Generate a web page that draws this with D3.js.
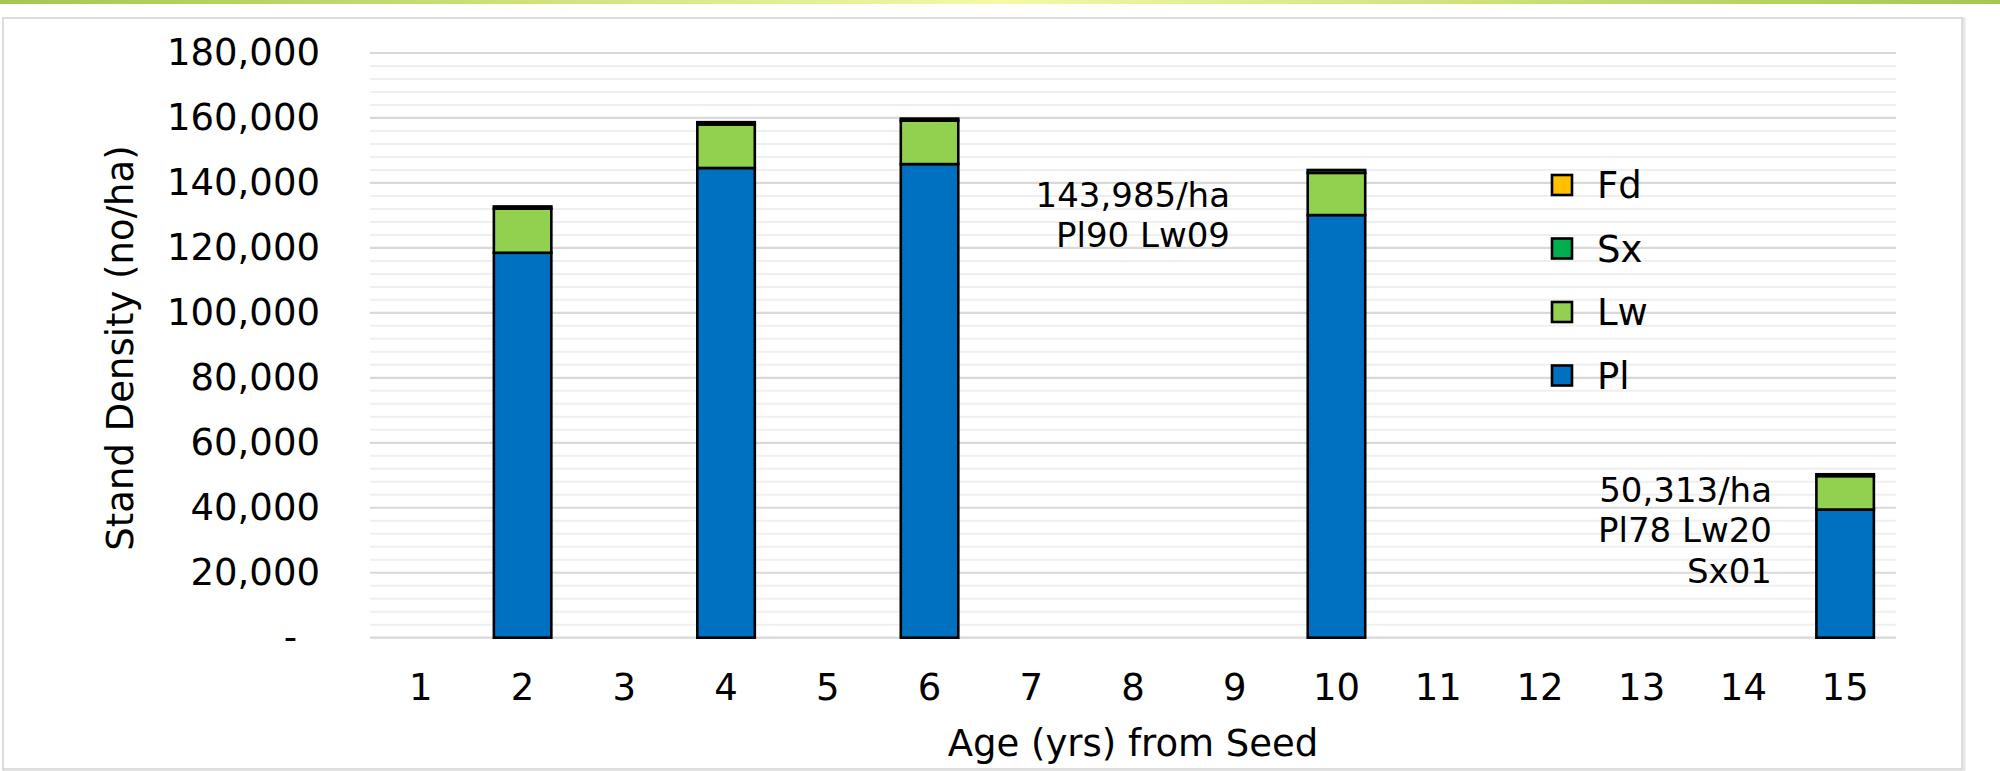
<!DOCTYPE html>
<html>
<head>
<meta charset="utf-8">
<script src="https://cdn.jsdelivr.net/npm/d3@7"></script>
<style>
  html, body { margin: 0; padding: 0; background: #ffffff; }
  svg { display: block; }
  text { font-family: "DejaVu Sans", Verdana, sans-serif; fill: #000; }
</style>
</head>
<body>
<svg id="chart" width="2000" height="771"></svg>
<script>
// ---- Data ----
const ages = ["1","2","3","4","5","6","7","8","9","10","11","12","13","14","15"];
const pl = [0, 118500, 0, 144600, 0, 145800, 0, 0, 0, 130100, 0, 0, 0, 0, 39450];
const lw = [0, 13600, 0, 13400, 0, 13400, 0, 0, 0, 13000, 0, 0, 0, 0, 10300];
const sx = [0, 660, 0, 700, 0, 600, 0, 0, 0, 885, 0, 0, 0, 0, 563];
const fd = [0, 0, 0, 0, 0, 0, 0, 0, 0, 0, 0, 0, 0, 0, 0];
const seriesKeys = ["Pl", "Lw", "Sx", "Fd"];
const seriesColors = ["#0070C0", "#92D050", "#00B050", "#FFC000"];
const legendOrder = ["Fd", "Sx", "Lw", "Pl"];
const yTicks = [0, 20000, 40000, 60000, 80000, 100000, 120000, 140000, 160000, 180000];
const yMinorStep = 4000;
const annotations = [
  { age: "10", lines: ["143,985/ha", "Pl90 Lw09"] },
  { age: "15", lines: ["50,313/ha", "Pl78 Lw20", "Sx01"] }
];
const xTitle = "Age (yrs) from Seed";
const yTitle = "Stand Density (no/ha)";

// ---- Layout ----
const W = 2000, H = 771;
const plotL = 370, plotR = 1896, plotT = 53, plotB = 637.7;
const FS = 37;
const FS_ANN = 34;

const svg = d3.select("#chart");

// top decorative gradient band
const defs = svg.append("defs");
const grad = defs.append("linearGradient").attr("id", "topband").attr("x1", "0%").attr("x2", "100%");
grad.append("stop").attr("offset", "0%").attr("stop-color", "#a3c84c");
grad.append("stop").attr("offset", "50%").attr("stop-color", "#f3f9a6");
grad.append("stop").attr("offset", "100%").attr("stop-color", "#a3c84c");
svg.append("rect").attr("x", 0).attr("y", 0).attr("width", W).attr("height", 4).attr("fill", "url(#topband)");

// panel frame with slight shadow
svg.append("rect").attr("x", 4).attr("y", 19).attr("width", 1960).attr("height", 752)
  .attr("fill", "none").attr("stroke", "#e6e6e6").attr("stroke-width", 3);
svg.append("rect").attr("x", 3).attr("y", 18).attr("width", 1959).attr("height", 751)
  .attr("fill", "#ffffff").attr("stroke", "#d4d4d4").attr("stroke-width", 1.5);

// scales
const x = d3.scaleBand().domain(ages).range([plotL, plotR]).paddingInner(0.435).paddingOuter(0.2175);
const y = d3.scaleLinear().domain([0, 180000]).range([plotB, plotT]);

// minor gridlines
const minorVals = d3.range(0, 180000 + 1, yMinorStep).filter(v => !yTicks.includes(v));
svg.append("g").selectAll("line").data(minorVals).join("line")
  .attr("x1", plotL).attr("x2", plotR)
  .attr("y1", d => y(d)).attr("y2", d => y(d))
  .attr("stroke", "#efefef").attr("stroke-width", 2);
// major gridlines
svg.append("g").selectAll("line").data(yTicks).join("line")
  .attr("x1", plotL).attr("x2", plotR)
  .attr("y1", d => y(d)).attr("y2", d => y(d))
  .attr("stroke", "#d9d9d9").attr("stroke-width", 2.2);

// stacked bars
const rows = ages.map((a, i) => ({ age: a, Pl: pl[i], Lw: lw[i], Sx: sx[i], Fd: fd[i] }));
const stacked = d3.stack().keys(seriesKeys)(rows);
const barG = svg.append("g");
stacked.forEach((layer, li) => {
  barG.append("g").selectAll("rect")
    .data(layer.filter(d => d[1] - d[0] > 0))
    .join("rect")
    .attr("x", d => x(d.data.age))
    .attr("width", x.bandwidth())
    .attr("y", d => y(d[1]))
    .attr("height", d => y(d[0]) - y(d[1]))
    .attr("fill", seriesColors[li])
    .attr("stroke", "#000").attr("stroke-width", 2.6);
});

// Y axis
const yAxis = d3.axisLeft(y).tickValues(yTicks).tickSize(0).tickPadding(50)
  .tickFormat(d => d === 0 ? "-" : d3.format(",")(d));
const yG = svg.append("g").attr("transform", `translate(${plotL},0)`).call(yAxis);
yG.select(".domain").remove();
yG.selectAll("text").attr("font-size", FS).attr("font-family", "DejaVu Sans").attr("fill", "#000");
yG.selectAll(".tick").filter(d => d === 0).select("text").attr("x", -73);

// X axis
const xAxis = d3.axisBottom(x).tickSize(0);
const xG = svg.append("g").attr("transform", `translate(0,${plotB})`).call(xAxis);
xG.select(".domain").remove();
xG.selectAll("text").attr("font-size", FS).attr("font-family", "DejaVu Sans").attr("fill", "#000")
  .attr("y", 700 - plotB).attr("dy", 0);

// axis titles
svg.append("text").attr("x", (plotL + plotR) / 2 + 0).attr("y", 756)
  .attr("text-anchor", "middle").attr("font-size", FS).text(xTitle);
svg.append("text").attr("transform", "translate(133,348) rotate(-90)")
  .attr("text-anchor", "middle").attr("font-size", FS).text(yTitle);

// legend
const legG = svg.append("g");
legendOrder.forEach((k, i) => {
  const cy = 185 + i * 63.5;
  const color = seriesColors[seriesKeys.indexOf(k)];
  legG.append("rect").attr("x", 1552).attr("y", cy - 10).attr("width", 20).attr("height", 20)
    .attr("fill", color).attr("stroke", "#000").attr("stroke-width", 2.6);
  legG.append("text").attr("x", 1597).attr("y", cy).attr("dy", "0.36em")
    .attr("font-size", FS).text(k);
});

// annotations
const annPos = { "10": { xr: 1230, y0: 206.7 }, "15": { xr: 1772, y0: 501.7 } };
annotations.forEach(a => {
  const p = annPos[a.age];
  a.lines.forEach((ln, j) => {
    svg.append("text").attr("x", p.xr).attr("y", p.y0 + j * 40.5)
      .attr("text-anchor", "end").attr("font-size", FS_ANN).text(ln);
  });
});
</script>
</body>
</html>
